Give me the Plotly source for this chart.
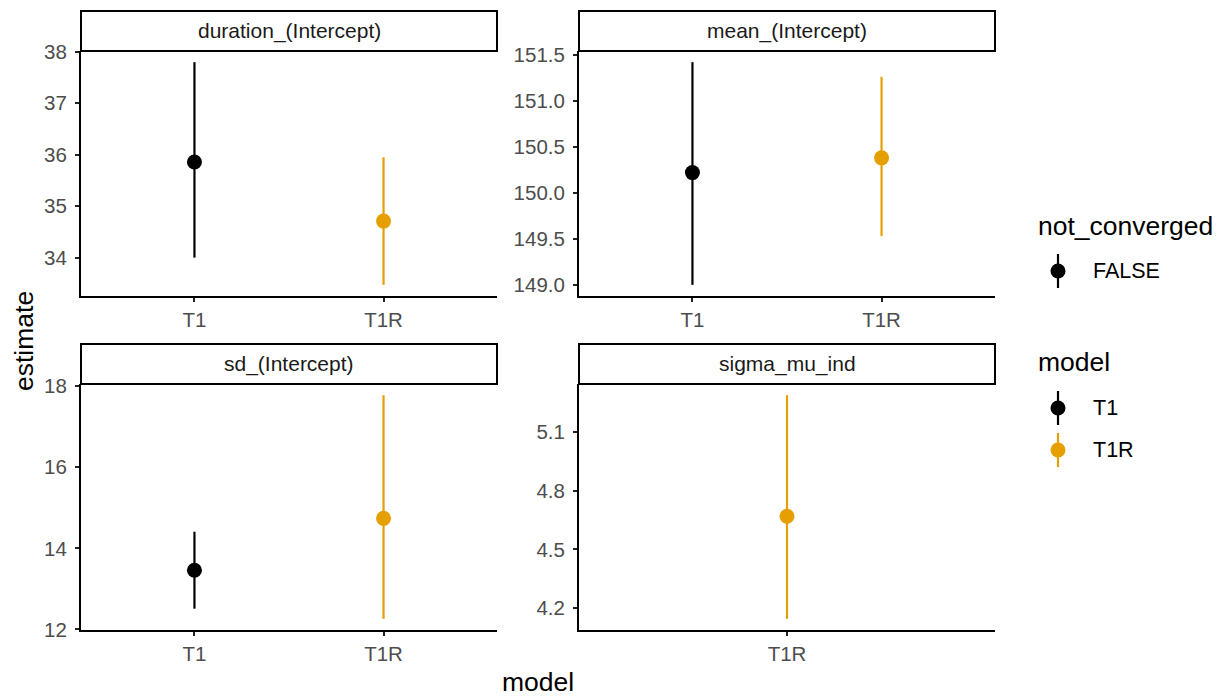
import plotly.graph_objects as go

# ---- estimates per term and model (point estimate with interval) ----
terms = ["duration_(Intercept)", "mean_(Intercept)", "sd_(Intercept)", "sigma_mu_ind"]

term_col = ["duration_(Intercept)", "duration_(Intercept)",
            "mean_(Intercept)", "mean_(Intercept)",
            "sd_(Intercept)", "sd_(Intercept)",
            "sigma_mu_ind"]
model_col = ["T1", "T1R", "T1", "T1R", "T1", "T1R", "T1R"]
estimate = [35.86, 34.71, 150.22, 150.38, 13.46, 14.74, 4.67]
conf_low = [34.00, 33.47, 149.00, 149.53, 12.51, 12.26, 4.145]
conf_high = [37.80, 35.95, 151.42, 151.26, 14.41, 17.78, 5.29]

model_levels = ["T1", "T1R"]
model_colors = {"T1": "#000000", "T1R": "#E69F00"}

# y tick spacing and label format for each facet
tick_step = {"duration_(Intercept)": 1, "mean_(Intercept)": 0.5,
             "sd_(Intercept)": 2, "sigma_mu_ind": 0.3}
tick_fmt = {"duration_(Intercept)": "d", "mean_(Intercept)": ".1f",
            "sd_(Intercept)": "d", "sigma_mu_ind": ".1f"}

W, H = 1227, 696
FONT = "Liberation Sans, Arial, sans-serif"
TICK_GREY = "#4D4D4D"

# facet panel boxes in pixels: (left, right, top, bottom); strips sit above
panels = {
    "duration_(Intercept)": (81, 497, 51, 296),
    "mean_(Intercept)": (579, 995, 51, 296),
    "sd_(Intercept)": (81, 497, 384, 630),
    "sigma_mu_ind": (579, 995, 384, 630),
}
strip_h = 40


def px_x(v):
    return v / W


def px_y(v):
    return 1 - v / H


fig = go.Figure()
layout = dict(
    width=W, height=H,
    margin=dict(l=0, r=0, t=0, b=0, pad=0, autoexpand=False),
    paper_bgcolor="white", plot_bgcolor="white",
    showlegend=False,
    font=dict(family=FONT, color="black"),
)
shapes = []
annotations = []

for i, term in enumerate(terms, start=1):
    left, right, top, bottom = panels[term]
    xa = "x" if i == 1 else f"x{i}"
    ya = "y" if i == 1 else f"y{i}"
    rows = [k for k in range(len(term_col)) if term_col[k] == term]
    present = [m for m in model_levels if any(model_col[k] == m for k in rows)]

    for m in present:
        ks = [k for k in rows if model_col[k] == m]
        fig.add_trace(go.Scatter(
            x=[model_col[k] for k in ks],
            y=[estimate[k] for k in ks],
            mode="markers",
            marker=dict(color=model_colors[m], size=15, line=dict(width=0)),
            error_y=dict(
                type="data", symmetric=False,
                array=[conf_high[k] - estimate[k] for k in ks],
                arrayminus=[estimate[k] - conf_low[k] for k in ks],
                color=model_colors[m], thickness=2.2, width=0,
            ),
            xaxis=xa, yaxis=ya, name=m, hoverinfo="skip",
        ))

    lo = min(conf_low[k] for k in rows)
    hi = max(conf_high[k] for k in rows)
    pad = (hi - lo) * 0.05
    n = len(present)

    axis_common = dict(
        showline=True, linecolor="black", linewidth=2,
        showgrid=False, zeroline=False,
        ticks="outside", ticklen=4, tickwidth=1.6, tickcolor="#222222",
        tickfont=dict(family=FONT, size=20.5, color=TICK_GREY),
        mirror=False, fixedrange=True, automargin=False,
    )
    layout[f"xaxis{'' if i == 1 else i}"] = dict(
        axis_common,
        domain=[px_x(left), px_x(right)],
        anchor=ya,
        type="category",
        categoryorder="array", categoryarray=present,
        range=[-0.6, n - 1 + 0.6],
    )
    layout[f"yaxis{'' if i == 1 else i}"] = dict(
        axis_common,
        domain=[px_y(bottom), px_y(top)],
        anchor=xa,
        range=[lo - pad, hi + pad],
        dtick=tick_step[term], tick0=0,
        tickformat=tick_fmt[term],
        ticklabelstandoff=4,
    )

    # facet strip
    shapes.append(dict(
        type="rect", xref="paper", yref="paper",
        x0=px_x(left), x1=px_x(right),
        y0=px_y(top), y1=px_y(top - strip_h),
        line=dict(color="black", width=2), fillcolor="white", layer="above",
    ))
    annotations.append(dict(
        text=term, xref="paper", yref="paper",
        x=px_x((left + right) / 2), y=px_y(top - strip_h / 2),
        xanchor="center", yanchor="middle", showarrow=False,
        font=dict(family=FONT, size=21, color="#1A1A1A"),
    ))

# axis titles
annotations.append(dict(
    text="model", xref="paper", yref="paper",
    x=px_x(538), y=px_y(682), xanchor="center", yanchor="middle",
    showarrow=False, font=dict(family=FONT, size=26.5, color="black"),
))
annotations.append(dict(
    text="estimate", xref="paper", yref="paper",
    x=px_x(24), y=px_y(341), xanchor="center", yanchor="middle",
    textangle=-90, showarrow=False, font=dict(family=FONT, size=26.5, color="black"),
))

# ---- legend: two guides (not_converged, model) drawn on a hidden axis ----
legend_titles = ["not_converged", "model"]
legend_title_y = [226, 362]
legend_labels = ["FALSE", "T1", "T1R"]
legend_label_colors = ["#000000", "#000000", "#E69F00"]
legend_label_y = [271, 408, 450]

fig.add_trace(go.Scatter(
    x=[0] * len(legend_labels), y=legend_label_y,
    mode="markers",
    marker=dict(color=legend_label_colors, size=15, line=dict(width=0)),
    xaxis="x5", yaxis="y5", hoverinfo="skip",
))
for yy, col in zip(legend_label_y, legend_label_colors):
    shapes.append(dict(
        type="line", xref="x5", yref="y5", x0=0, x1=0,
        y0=yy - 17, y1=yy + 17, line=dict(color=col, width=2.2), layer="below",
    ))
layout["xaxis5"] = dict(domain=[px_x(1040), px_x(1076)], range=[-1, 1],
                        visible=False, fixedrange=True, anchor="y5", automargin=False)
layout["yaxis5"] = dict(domain=[0, 1], range=[H, 0],
                        visible=False, fixedrange=True, anchor="x5", automargin=False)

for t, yy in zip(legend_titles, legend_title_y):
    annotations.append(dict(
        text=t, xref="paper", yref="paper",
        x=px_x(1036), y=px_y(yy), xanchor="left", yanchor="middle",
        showarrow=False, font=dict(family=FONT, size=26.5, color="black"),
    ))
for t, yy in zip(legend_labels, legend_label_y):
    annotations.append(dict(
        text=t, xref="paper", yref="paper",
        x=px_x(1091), y=px_y(yy), xanchor="left", yanchor="middle",
        showarrow=False, font=dict(family=FONT, size=21.5, color="black"),
    ))

layout["shapes"] = shapes
layout["annotations"] = annotations
fig.update_layout(**layout)

fig.write_html("out.html")
